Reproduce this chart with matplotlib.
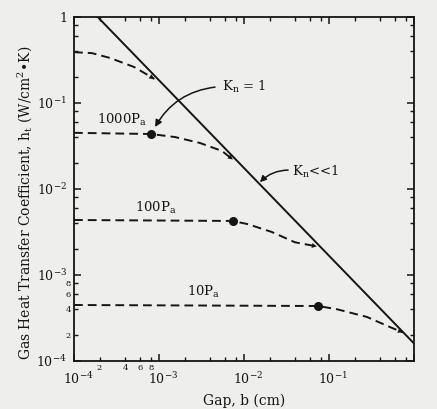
import matplotlib.pyplot as plt
from matplotlib.ticker import FixedLocator, FixedFormatter
from matplotlib.transforms import ScaledTranslation

plt.rcParams['font.family'] = ['DejaVu Serif']
plt.rcParams['mathtext.fontset'] = 'dejavuserif'

# continuum limit, Kn << 1
gap_cont = [1.9e-4, 1.0]
h_cont = [1.0, 1.6e-4]

# transition curves
gap_top = [1e-4, 1.63e-4, 2.65e-4, 5.1e-4, 7.8e-4, 8.8e-4]
h_top = [0.39, 0.38, 0.334, 0.262, 0.205, 0.19]

gap_1000 = [1e-4, 8.05e-4, 1.54e-3, 3.03e-3, 5.5e-3, 7.4e-3]
h_1000 = [0.045, 0.0436, 0.0402, 0.0343, 0.0277, 0.022]

gap_100 = [1e-4, 7.4e-3, 0.0111, 0.0213, 0.0398, 0.072]
h_100 = [4.36e-3, 4.25e-3, 3.9e-3, 3.16e-3, 2.4e-3, 2.15e-3]

gap_10 = [1e-4, 0.0743, 0.124, 0.28, 0.522, 0.74]
h_10 = [4.48e-4, 4.36e-4, 4.0e-4, 3.25e-4, 2.48e-4, 2.15e-4]

# Kn = 1 points
gap_kn1 = [gap_1000[1], gap_100[1], gap_10[1]]
h_kn1 = [h_1000[1], h_100[1], h_10[1]]

pressure_labels = ['1000P$_\\mathrm{a}$', '100P$_\\mathrm{a}$', '10P$_\\mathrm{a}$']
label_pos = [(1.87e-4, 0.064), (5.2e-4, 6.0e-3), (2.13e-3, 6.3e-4)]

major = [1e-4, 1e-3, 1e-2, 1e-1, 1.0]
minor = [m * d for d in [1e-4, 1e-3, 1e-2, 1e-1] for m in [2, 4, 6, 8]]
minor_labels = ['2', '4', '6', '8'] + [''] * 12

bg = '#eeeeec'
ink = '#151515'

fig = plt.figure(figsize=(4.37, 4.09), dpi=100, facecolor=bg)
ax = fig.add_axes([74 / 437, 48 / 409, 340 / 437, 344 / 409], facecolor=bg)
ax.set_xscale('log')
ax.set_yscale('log')
ax.set_xlim(1e-4, 1)
ax.set_ylim(1e-4, 1)

ax.plot(gap_cont, h_cont, color=ink, lw=1.4)
for g, h in [(gap_top, h_top), (gap_1000, h_1000), (gap_100, h_100), (gap_10, h_10)]:
    ax.plot(g, h, color=ink, lw=1.4, dashes=(4.5, 2.6))
    ax.annotate('', xy=(g[-1], h[-1]), xytext=(g[-2], h[-2]),
                arrowprops=dict(arrowstyle='-|>', lw=0, color=ink, mutation_scale=9,
                                shrinkA=0, shrinkB=0))
ax.plot(gap_kn1, h_kn1, 'o', color=ink, ms=5.5)

for txt, (x, y) in zip(pressure_labels, label_pos):
    ax.text(x, y, txt, fontsize=9.5, ha='left', va='center', color=ink)

ax.text(5.5e-3, 0.153, 'K$_\\mathrm{n}$ = 1', fontsize=9.5, ha='left', va='center', color=ink)
ax.annotate('', xy=(9e-4, 0.0526), xytext=(4.56e-3, 0.153),
            arrowprops=dict(arrowstyle='-|>', color=ink, lw=1.1, mutation_scale=10,
                            shrinkA=0, shrinkB=0, connectionstyle='arc3,rad=0.25'))
ax.text(0.0367, 0.0158, 'K$_\\mathrm{n}$<<1', fontsize=9.5, ha='left', va='center', color=ink)
ax.annotate('', xy=(0.0154, 0.012), xytext=(0.033, 0.0166),
            arrowprops=dict(arrowstyle='-|>', color=ink, lw=1.1, mutation_scale=9,
                            shrinkA=0, shrinkB=0, connectionstyle='arc3,rad=0.2'))

for axis in [ax.xaxis, ax.yaxis]:
    axis.set_major_locator(FixedLocator(major))
    axis.set_minor_locator(FixedLocator(minor))
    axis.set_minor_formatter(FixedFormatter(minor_labels))
ax.xaxis.set_major_formatter(FixedFormatter(['$10^{-4}$', '$10^{-3}$', '$10^{-2}$', '$10^{-1}$', '']))
ax.yaxis.set_major_formatter(FixedFormatter(['$10^{-4}$', '$10^{-3}$', '$10^{-2}$', '$10^{-1}$', '1']))

ax.tick_params(which='both', direction='in', top=True, right=True, colors=ink)
ax.tick_params(which='major', length=5, width=1.1, labelsize=9, pad=5)
ax.tick_params(axis='x', which='major', pad=7)
ax.tick_params(which='minor', length=3, width=1.0, labelsize=6, pad=2)
for s in ax.spines.values():
    s.set_linewidth(1.3)
    s.set_color(ink)

# in the original the "10" of each x label sits centred on its tick
shift = ScaledTranslation(3 / 72, 0, fig.dpi_scale_trans)
for t in ax.xaxis.get_major_ticks():
    t.label1.set_transform(t.label1.get_transform() + shift)

ax.set_xlabel('Gap, b (cm)', fontsize=10, color=ink)
ax.set_ylabel('Gas Heat Transfer Coefficient, h$_\\mathrm{t}$ (W/cm$^2$•K)', fontsize=10, color=ink)
ax.xaxis.set_label_coords(0.5, -0.095)
ax.yaxis.set_label_coords(-0.115, 0.46)

fig.savefig('out.png', dpi=100, facecolor=bg)
